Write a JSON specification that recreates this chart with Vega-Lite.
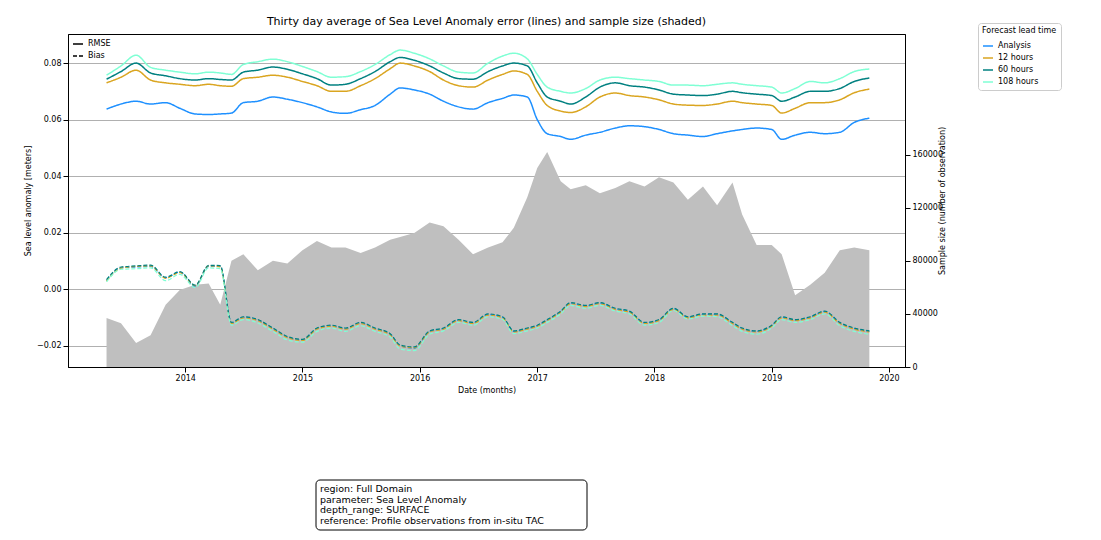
{
  "$schema": "https://vega.github.io/schema/vega-lite/v6.json",
  "background": "white",
  "padding": {"left": 23, "top": 15, "right": 5, "bottom": 5},
  "config": {
    "font": "DejaVu Sans",
    "view": {"stroke": "black"},
    "axis": {"labelFontSize": 8, "titleFontSize": 8, "labelColor": "black", "titleColor": "black", "domainColor": "black", "tickColor": "black", "titleFontWeight": "normal"},
    "legend": {"labelFontSize": 8, "titleFontSize": 8, "titleFontWeight": "normal"}
  },
  "spacing": 84,
  "datasets": {
    "ts": [
      {"d":"2013-05-01","A":0.0637,"H12":0.0730,"H60":0.0743,"H108":0.0757,"bA":0.0030,"b12":0.0028,"b60":0.0033,"b108":0.0025,"n":37000},
      {"d":"2013-06-15","A":0.0655,"H12":0.0750,"H60":0.0770,"H108":0.0790,"bA":0.0075,"b12":0.0074,"b60":0.0078,"b108":0.0070,"n":33000},
      {"d":"2013-08-01","A":0.0665,"H12":0.0775,"H60":0.0800,"H108":0.0828,"bA":0.0078,"b12":0.0080,"b60":0.0082,"b108":0.0072,"n":18000},
      {"d":"2013-09-15","A":0.0655,"H12":0.0740,"H60":0.0765,"H108":0.0785,"bA":0.0080,"b12":0.0082,"b60":0.0085,"b108":0.0075,"n":24000},
      {"d":"2013-11-01","A":0.0660,"H12":0.0730,"H60":0.0755,"H108":0.0775,"bA":0.0040,"b12":0.0038,"b60":0.0042,"b108":0.0030,"n":47000},
      {"d":"2013-12-15","A":0.0640,"H12":0.0725,"H60":0.0745,"H108":0.0768,"bA":0.0060,"b12":0.0058,"b60":0.0062,"b108":0.0052,"n":58000},
      {"d":"2014-02-01","A":0.0620,"H12":0.0720,"H60":0.0740,"H108":0.0762,"bA":0.0010,"b12":0.0012,"b60":0.0014,"b108":0.0005,"n":62000},
      {"d":"2014-03-15","A":0.0618,"H12":0.0725,"H60":0.0745,"H108":0.0768,"bA":0.0080,"b12":0.0082,"b60":0.0084,"b108":0.0075,"n":63000},
      {"d":"2014-04-20","A":0.0620,"H12":0.0720,"H60":0.0742,"H108":0.0765,"bA":0.0080,"b12":0.0078,"b60":0.0083,"b108":0.0072,"n":47000},
      {"d":"2014-05-25","A":0.0623,"H12":0.0718,"H60":0.0740,"H108":0.0760,"bA":-0.0120,"b12":-0.0122,"b60":-0.0118,"b108":-0.0128,"n":80000},
      {"d":"2014-07-01","A":0.0660,"H12":0.0745,"H60":0.0768,"H108":0.0795,"bA":-0.0100,"b12":-0.0102,"b60":-0.0098,"b108":-0.0108,"n":85000},
      {"d":"2014-08-15","A":0.0665,"H12":0.0750,"H60":0.0775,"H108":0.0805,"bA":-0.0110,"b12":-0.0112,"b60":-0.0108,"b108":-0.0120,"n":73000},
      {"d":"2014-10-01","A":0.0680,"H12":0.0757,"H60":0.0786,"H108":0.0814,"bA":-0.0140,"b12":-0.0142,"b60":-0.0138,"b108":-0.0150,"n":80000},
      {"d":"2014-11-15","A":0.0672,"H12":0.0750,"H60":0.0778,"H108":0.0805,"bA":-0.0170,"b12":-0.0172,"b60":-0.0168,"b108":-0.0180,"n":78000},
      {"d":"2015-01-01","A":0.0660,"H12":0.0735,"H60":0.0762,"H108":0.0788,"bA":-0.0180,"b12":-0.0182,"b60":-0.0178,"b108":-0.0188,"n":88000},
      {"d":"2015-02-15","A":0.0645,"H12":0.0720,"H60":0.0745,"H108":0.0770,"bA":-0.0140,"b12":-0.0142,"b60":-0.0138,"b108":-0.0150,"n":95000},
      {"d":"2015-04-01","A":0.0627,"H12":0.0700,"H60":0.0722,"H108":0.0750,"bA":-0.0130,"b12":-0.0132,"b60":-0.0128,"b108":-0.0138,"n":90000},
      {"d":"2015-05-15","A":0.0622,"H12":0.0700,"H60":0.0725,"H108":0.0752,"bA":-0.0140,"b12":-0.0142,"b60":-0.0138,"b108":-0.0150,"n":90000},
      {"d":"2015-07-01","A":0.0635,"H12":0.0720,"H60":0.0745,"H108":0.0770,"bA":-0.0120,"b12":-0.0122,"b60":-0.0118,"b108":-0.0130,"n":86000},
      {"d":"2015-08-15","A":0.0650,"H12":0.0745,"H60":0.0770,"H108":0.0795,"bA":-0.0140,"b12":-0.0142,"b60":-0.0138,"b108":-0.0150,"n":90000},
      {"d":"2015-10-01","A":0.0690,"H12":0.0780,"H60":0.0805,"H108":0.0830,"bA":-0.0160,"b12":-0.0162,"b60":-0.0158,"b108":-0.0170,"n":96000},
      {"d":"2015-11-01","A":0.0712,"H12":0.0800,"H60":0.0820,"H108":0.0846,"bA":-0.0200,"b12":-0.0202,"b60":-0.0198,"b108":-0.0212,"n":98000},
      {"d":"2015-12-15","A":0.0705,"H12":0.0790,"H60":0.0810,"H108":0.0835,"bA":-0.0210,"b12":-0.0208,"b60":-0.0205,"b108":-0.0218,"n":101000},
      {"d":"2016-02-01","A":0.0690,"H12":0.0770,"H60":0.0790,"H108":0.0815,"bA":-0.0150,"b12":-0.0152,"b60":-0.0148,"b108":-0.0160,"n":109000},
      {"d":"2016-03-15","A":0.0665,"H12":0.0740,"H60":0.0765,"H108":0.0790,"bA":-0.0140,"b12":-0.0142,"b60":-0.0138,"b108":-0.0148,"n":106000},
      {"d":"2016-05-01","A":0.0645,"H12":0.0720,"H60":0.0745,"H108":0.0768,"bA":-0.0110,"b12":-0.0112,"b60":-0.0108,"b108":-0.0118,"n":96000},
      {"d":"2016-06-15","A":0.0637,"H12":0.0715,"H60":0.0743,"H108":0.0765,"bA":-0.0120,"b12":-0.0122,"b60":-0.0118,"b108":-0.0128,"n":85000},
      {"d":"2016-08-01","A":0.0660,"H12":0.0740,"H60":0.0770,"H108":0.0800,"bA":-0.0090,"b12":-0.0092,"b60":-0.0088,"b108":-0.0098,"n":90000},
      {"d":"2016-09-15","A":0.0675,"H12":0.0760,"H60":0.0790,"H108":0.0825,"bA":-0.0100,"b12":-0.0102,"b60":-0.0098,"b108":-0.0108,"n":94000},
      {"d":"2016-10-20","A":0.0687,"H12":0.0772,"H60":0.0800,"H108":0.0835,"bA":-0.0150,"b12":-0.0152,"b60":-0.0148,"b108":-0.0158,"n":105000},
      {"d":"2016-12-01","A":0.0680,"H12":0.0760,"H60":0.0790,"H108":0.0815,"bA":-0.0140,"b12":-0.0142,"b60":-0.0138,"b108":-0.0148,"n":128000},
      {"d":"2017-01-01","A":0.0600,"H12":0.0700,"H60":0.0730,"H108":0.0760,"bA":-0.0130,"b12":-0.0132,"b60":-0.0128,"b108":-0.0138,"n":150000},
      {"d":"2017-02-01","A":0.0550,"H12":0.0650,"H60":0.0680,"H108":0.0715,"bA":-0.0110,"b12":-0.0112,"b60":-0.0108,"b108":-0.0118,"n":162000},
      {"d":"2017-03-15","A":0.0540,"H12":0.0630,"H60":0.0665,"H108":0.0700,"bA":-0.0080,"b12":-0.0082,"b60":-0.0078,"b108":-0.0088,"n":140000},
      {"d":"2017-04-15","A":0.0530,"H12":0.0625,"H60":0.0655,"H108":0.0694,"bA":-0.0050,"b12":-0.0052,"b60":-0.0048,"b108":-0.0058,"n":134000},
      {"d":"2017-06-01","A":0.0545,"H12":0.0645,"H60":0.0680,"H108":0.0710,"bA":-0.0060,"b12":-0.0062,"b60":-0.0058,"b108":-0.0068,"n":137000},
      {"d":"2017-07-15","A":0.0555,"H12":0.0680,"H60":0.0715,"H108":0.0740,"bA":-0.0050,"b12":-0.0052,"b60":-0.0048,"b108":-0.0058,"n":131000},
      {"d":"2017-09-01","A":0.0570,"H12":0.0694,"H60":0.0730,"H108":0.0750,"bA":-0.0070,"b12":-0.0072,"b60":-0.0068,"b108":-0.0078,"n":135000},
      {"d":"2017-10-15","A":0.0578,"H12":0.0685,"H60":0.0720,"H108":0.0745,"bA":-0.0080,"b12":-0.0082,"b60":-0.0078,"b108":-0.0088,"n":140000},
      {"d":"2017-12-01","A":0.0575,"H12":0.0680,"H60":0.0715,"H108":0.0740,"bA":-0.0120,"b12":-0.0122,"b60":-0.0118,"b108":-0.0128,"n":136000},
      {"d":"2018-01-15","A":0.0565,"H12":0.0670,"H60":0.0705,"H108":0.0735,"bA":-0.0110,"b12":-0.0112,"b60":-0.0108,"b108":-0.0118,"n":143000},
      {"d":"2018-03-01","A":0.0550,"H12":0.0655,"H60":0.0690,"H108":0.0722,"bA":-0.0070,"b12":-0.0072,"b60":-0.0068,"b108":-0.0076,"n":139000},
      {"d":"2018-04-15","A":0.0545,"H12":0.0651,"H60":0.0687,"H108":0.0722,"bA":-0.0100,"b12":-0.0102,"b60":-0.0098,"b108":-0.0106,"n":126000},
      {"d":"2018-06-01","A":0.0540,"H12":0.0650,"H60":0.0685,"H108":0.0720,"bA":-0.0090,"b12":-0.0092,"b60":-0.0088,"b108":-0.0096,"n":136000},
      {"d":"2018-07-15","A":0.0550,"H12":0.0655,"H60":0.0690,"H108":0.0725,"bA":-0.0090,"b12":-0.0092,"b60":-0.0088,"b108":-0.0098,"n":122000},
      {"d":"2018-09-01","A":0.0560,"H12":0.0665,"H60":0.0700,"H108":0.0730,"bA":-0.0120,"b12":-0.0122,"b60":-0.0118,"b108":-0.0130,"n":139000},
      {"d":"2018-10-01","A":0.0565,"H12":0.0660,"H60":0.0695,"H108":0.0725,"bA":-0.0140,"b12":-0.0142,"b60":-0.0138,"b108":-0.0150,"n":115000},
      {"d":"2018-11-15","A":0.0570,"H12":0.0655,"H60":0.0690,"H108":0.0720,"bA":-0.0150,"b12":-0.0152,"b60":-0.0148,"b108":-0.0160,"n":92000},
      {"d":"2019-01-01","A":0.0565,"H12":0.0650,"H60":0.0685,"H108":0.0715,"bA":-0.0130,"b12":-0.0132,"b60":-0.0128,"b108":-0.0138,"n":92000},
      {"d":"2019-02-01","A":0.0530,"H12":0.0623,"H60":0.0665,"H108":0.0694,"bA":-0.0100,"b12":-0.0102,"b60":-0.0098,"b108":-0.0108,"n":85000},
      {"d":"2019-03-15","A":0.0545,"H12":0.0640,"H60":0.0680,"H108":0.0710,"bA":-0.0110,"b12":-0.0112,"b60":-0.0108,"b108":-0.0118,"n":54000},
      {"d":"2019-05-01","A":0.0555,"H12":0.0660,"H60":0.0700,"H108":0.0735,"bA":-0.0100,"b12":-0.0102,"b60":-0.0098,"b108":-0.0108,"n":62000},
      {"d":"2019-06-15","A":0.0550,"H12":0.0660,"H60":0.0700,"H108":0.0730,"bA":-0.0080,"b12":-0.0082,"b60":-0.0078,"b108":-0.0088,"n":71000},
      {"d":"2019-08-01","A":0.0555,"H12":0.0670,"H60":0.0710,"H108":0.0745,"bA":-0.0120,"b12":-0.0122,"b60":-0.0118,"b108":-0.0130,"n":88000},
      {"d":"2019-09-15","A":0.0590,"H12":0.0695,"H60":0.0735,"H108":0.0770,"bA":-0.0140,"b12":-0.0142,"b60":-0.0138,"b108":-0.0150,"n":90000},
      {"d":"2019-11-01","A":0.0605,"H12":0.0708,"H60":0.0747,"H108":0.0779,"bA":-0.0150,"b12":-0.0152,"b60":-0.0148,"b108":-0.0160,"n":88000}
    ]
  },
  "vconcat": [
    {
      "width": 837,
      "height": 333,
      "title": {"text": "Thirty day average of Sea Level Anomaly error (lines) and sample size (shaded)", "fontSize": 11, "fontWeight": "normal", "offset": 7},
      "data": {"name": "ts"},
      "layer": [
        {
          "mark": {"type": "area", "interpolate": "linear", "color": "#bfbfbf"},
          "encoding": {
            "x": {"field": "d", "type": "temporal"},
            "y": {"field": "n", "type": "quantitative", "scale": {"domain": [0, 251000], "nice": false},
              "axis": {"orient": "right", "values": [0, 40000, 80000, 120000, 160000], "grid": false, "title": "Sample size (number of observation)", "titleAngle": 270, "format": "d"}}
          }
        },
        {
          "layer": [
            {
              "transform": [
                {"fold": ["A", "H12", "H60", "H108"], "as": ["k", "v"]},
                {"lookup": "k", "from": {"data": {"values": [{"k":"A","lead":"Analysis"},{"k":"H12","lead":"12 hours"},{"k":"H60","lead":"60 hours"},{"k":"H108","lead":"108 hours"}]}, "key": "k", "fields": ["lead"]}},
                {"calculate": "'RMSE'", "as": "metric"}
              ],
              "mark": {"type": "line", "strokeWidth": 1.5, "interpolate": "monotone"},
              "encoding": {}
            },
            {
              "transform": [
                {"fold": ["bA", "b12", "b60", "b108"], "as": ["k", "v"]},
                {"lookup": "k", "from": {"data": {"values": [{"k":"bA","lead":"Analysis"},{"k":"b12","lead":"12 hours"},{"k":"b60","lead":"60 hours"},{"k":"b108","lead":"108 hours"}]}, "key": "k", "fields": ["lead"]}},
                {"calculate": "'Bias'", "as": "metric"}
              ],
              "mark": {"type": "line", "strokeWidth": 1.2, "interpolate": "monotone"},
              "encoding": {}
            }
          ],
          "encoding": {
            "x": {"field": "d", "type": "temporal", "scale": {"domain": ["2013-01-01", "2020-02-20"]},
              "axis": {"title": "Date (months)", "format": "%Y", "values": ["2014-01-01", "2015-01-01", "2016-01-01", "2017-01-01", "2018-01-01", "2019-01-01", "2020-01-01"], "grid": false, "labelFlush": false}},
            "y": {"field": "v", "type": "quantitative", "scale": {"domain": [-0.0276, 0.0903], "nice": false, "zero": false},
              "axis": {"title": "Sea level anomaly [meters]", "values": [-0.02, 0, 0.02, 0.04, 0.06, 0.08], "format": ".2f", "grid": true, "gridColor": "#b0b0b0"}},
            "color": {"field": "lead", "type": "nominal",
              "scale": {"domain": ["Analysis", "12 hours", "60 hours", "108 hours"], "range": ["#1e90ff", "#daa520", "#008080", "#7fffd4"]},
              "legend": {"title": "Forecast lead time", "orient": "none", "legendX": 910, "legendY": -11, "symbolType": "stroke", "symbolStrokeWidth": 1.5, "strokeColor": "#cccccc", "padding": 4, "cornerRadius": 3, "fillColor": "white"}},
            "strokeDash": {"field": "metric", "type": "nominal",
              "scale": {"domain": ["RMSE", "Bias"], "range": [[1, 0], [4, 2]]},
              "legend": {"title": null, "orient": "top-left", "symbolType": "stroke", "symbolStrokeColor": "black", "symbolStrokeWidth": 1.5, "offset": 4}},
            "detail": {"field": "k"}
          }
        }
      ],
      "resolve": {"scale": {"y": "independent"}}
    },
    {
      "width": 837,
      "height": 50,
      "view": {"stroke": null},
      "data": {"values": [{"t": "region: Full Domain\nparameter: Sea Level Anomaly\ndepth_range: SURFACE\nreference: Profile observations from in-situ TAC"}]},
      "layer": [
        {
          "mark": {"type": "rect", "x": 248, "x2": 519, "y": 0, "y2": 50, "fill": "white", "stroke": "black", "cornerRadius": 4},
          "encoding": {}
        },
        {
          "mark": {"type": "text", "x": 252, "y": 4, "align": "left", "baseline": "top", "fontSize": 9.5, "lineBreak": "\n", "lineHeight": 10.5},
          "encoding": {"text": {"field": "t"}}
        }
      ]
    }
  ]
}
